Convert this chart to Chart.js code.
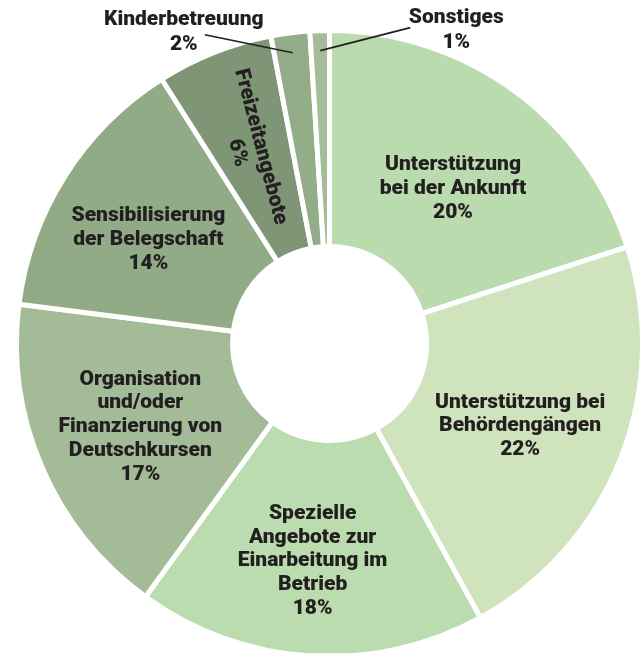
<!DOCTYPE html>
<html lang="de">
<head>
<meta charset="utf-8">
<script src="https://cdn.jsdelivr.net/npm/chart.js@4"></script>
<style>
    html, body { margin: 0; padding: 0; background: #fff; overflow: hidden; width: 640px; height: 653px; }
    #wrap { position: absolute; left: 0; top: 0; width: 659px; height: 687px; }
</style>
</head>
<body>
<div id="wrap"><canvas id="chart" width="659" height="687"></canvas></div>
<script>
const categories = [
    'Unterstützung bei der Ankunft',
    'Unterstützung bei Behördengängen',
    'Spezielle Angebote zur Einarbeitung im Betrieb',
    'Organisation und/oder Finanzierung von Deutschkursen',
    'Sensibilisierung der Belegschaft',
    'Freizeitangebote',
    'Kinderbetreuung',
    'Sonstiges'
];
const labelLines = [
    ['Unterstützung', 'bei der Ankunft'],
    ['Unterstützung bei', 'Behördengängen'],
    ['Spezielle', 'Angebote zur', 'Einarbeitung im', 'Betrieb'],
    ['Organisation', 'und/oder', 'Finanzierung von', 'Deutschkursen'],
    ['Sensibilisierung', 'der Belegschaft'],
    ['Freizeitangebote'],
    ['Kinderbetreuung'],
    ['Sonstiges']
];
const shares = [20, 22, 18, 17, 14, 6, 2, 1];

const sliceColors = ['#b9dbad', '#cfe4bd', '#bbdcae', '#a3bb97', '#92ab87', '#7e9675', '#93ad88', '#a4bc98'];
const textColor = '#231f20';

// where each label goes relative to its slice
const labelPlacement = [
    { mode: 'inside', dx: 3, dy: 11 },
    { mode: 'inside', dx: 0, dy: 7 },
    { mode: 'inside', dx: -4, dy: 13 },
    { mode: 'inside', dx: -1, dy: 2 },
    { mode: 'inside', dx: -8, dy: 6 },
    { mode: 'rotated', dx: -5, dy: -3, turn: 0.12 },
    { mode: 'outside', lineDx: -88, lineDy: -18, textDx: -21, textDy: -3 },
    { mode: 'outside', lineDx: 90, lineDy: -23, textDx: 46, textDy: 3 }
];

const FONT = '900 21px Roboto';
const LINE_H = 23.7;

function drawBlock(ctx, lines, x, y, lh) {
    const y0 = y - (lines.length - 1) * lh / 2;
    lines.forEach(function (t, k) {
        ctx.fillText(t, x, y0 + k * lh);
    });
}

const sliceLabels = {
    id: 'sliceLabels',
    afterDatasetsDraw(chart) {
        const ctx = chart.ctx;
        const arcs = chart.getDatasetMeta(0).data;
        ctx.save();
        ctx.font = FONT;
        ctx.fillStyle = textColor;
        ctx.strokeStyle = textColor;
        ctx.textAlign = 'center';
        ctx.textBaseline = 'middle';
        arcs.forEach(function (arc, i) {
            const p = arc.getProps(['x', 'y', 'startAngle', 'endAngle', 'innerRadius', 'outerRadius'], true);
            const mid = (p.startAngle + p.endAngle) / 2;
            const place = labelPlacement[i];
            const lines = labelLines[i].concat(shares[i] + '%');
            if (place.mode === 'inside') {
                const r = (p.innerRadius + p.outerRadius) / 2;
                drawBlock(ctx, lines, p.x + Math.cos(mid) * r + place.dx, p.y + Math.sin(mid) * r + place.dy, LINE_H);
            } else if (place.mode === 'rotated') {
                const r = (p.innerRadius + p.outerRadius) / 2;
                ctx.save();
                ctx.translate(p.x + Math.cos(mid) * r + place.dx, p.y + Math.sin(mid) * r + place.dy);
                ctx.rotate(mid + Math.PI + place.turn);
                drawBlock(ctx, lines, 0, 0, LINE_H);
                ctx.restore();
            } else {
                const r = p.outerRadius - 20;
                const ex = p.x + Math.cos(mid) * r;
                const ey = p.y + Math.sin(mid) * r;
                const sx = ex + place.lineDx;
                const sy = ey + place.lineDy;
                ctx.lineWidth = 1.6;
                ctx.beginPath();
                ctx.moveTo(sx, sy);
                ctx.lineTo(ex, ey);
                ctx.stroke();
                drawBlock(ctx, lines, sx + place.textDx, sy + place.textDy, 25);
            }
        });
        ctx.restore();
    }
};

new Chart(document.getElementById('chart'), {
    type: 'doughnut',
    data: {
        labels: categories,
        datasets: [{
            data: shares,
            backgroundColor: sliceColors,
            borderColor: '#ffffff',
            borderWidth: 5,
            hoverOffset: 0,
            hoverBorderWidth: 5
        }]
    },
    options: {
        responsive: false,
        animation: false,
        cutout: 97,
        layout: { padding: { left: 14, top: 28, right: 14, bottom: 28 } },
        plugins: {
            legend: { display: false },
            tooltip: { enabled: false }
        },
        events: []
    },
    plugins: [sliceLabels]
});
</script>
</body>
</html>
